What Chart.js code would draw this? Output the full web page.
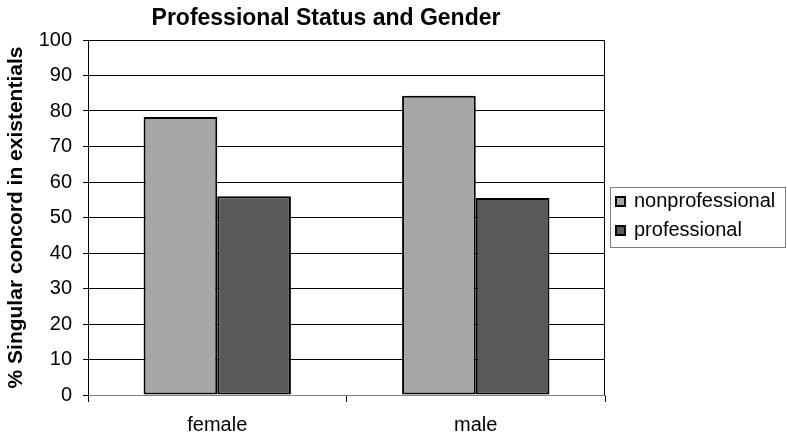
<!DOCTYPE html>
<html>
<head>
<meta charset="utf-8">
<script src="https://cdn.jsdelivr.net/npm/chart.js@4/dist/chart.umd.min.js"></script>
<style>
html,body{margin:0;padding:0;background:#fff;}
#wrap{width:787px;height:437px;position:relative;}
</style>
</head>
<body>
<div id="wrap"><canvas id="c" width="787" height="437"></canvas></div>
<script>
// data arrays
const chartTitle = "Professional Status and Gender";
const yAxisTitle = "% Singular concord in existentials";
const seriesNames = ["nonprofessional", "professional"];
const cats = ["female", "male"];
const nonprofValues = [78.3, 84.3];
const profValues = [56.0, 55.5];
const yTicks = [0, 10, 20, 30, 40, 50, 60, 70, 80, 90, 100];
const colors = ["#a6a6a6", "#595959"];

const FONT = '"Liberation Sans", Arial, Helvetica, sans-serif';

const framePlugin = {
  id: 'frame',
  afterDraw(chart) {
    const ctx = chart.ctx;
    const a = chart.chartArea;
    ctx.save();
    // right border
    ctx.strokeStyle = '#000';
    ctx.lineWidth = 1;
    ctx.beginPath();
    ctx.moveTo(Math.round(a.right) - 0.5, a.top);
    ctx.lineTo(Math.round(a.right) - 0.5, a.bottom);
    ctx.stroke();
    // title
    ctx.fillStyle = '#000';
    ctx.font = 'bold 23px ' + FONT;
    ctx.textAlign = 'center';
    ctx.textBaseline = 'alphabetic';
    ctx.fillText(chartTitle, 326, 25);
    // legend
    ctx.strokeStyle = '#808080';
    ctx.lineWidth = 1;
    ctx.strokeRect(610.5, 187.5, 175, 60);
    ctx.font = '20px ' + FONT;
    ctx.textAlign = 'left';
    chart.data.datasets.forEach((ds, i) => {
      const y = 197 + i * 29;
      ctx.fillStyle = ds.backgroundColor;
      ctx.fillRect(616, y, 9, 9);
      ctx.strokeStyle = '#000';
      ctx.lineWidth = 2;
      ctx.strokeRect(616, y, 9, 9);
      ctx.fillStyle = '#000';
      ctx.fillText(ds.label, 634, y + 10);
    });
    ctx.restore();
  }
};

new Chart(document.getElementById('c'), {
  type: 'bar',
  data: {
    labels: cats,
    datasets: [
      { label: seriesNames[0], data: nonprofValues, backgroundColor: colors[0], borderColor: '#000', borderWidth: 2, borderSkipped: false },
      { label: seriesNames[1], data: profValues, backgroundColor: colors[1], borderColor: '#000', borderWidth: 2, borderSkipped: false }
    ]
  },
  options: {
    responsive: false,
    animation: false,
    devicePixelRatio: 1,
    layout: { padding: { top: 40, right: 182, bottom: 0, left: 0 } },
    plugins: { legend: { display: false }, title: { display: false }, tooltip: { enabled: false } },
    datasets: { bar: { categoryPercentage: 0.57, barPercentage: 1.0 } },
    scales: {
      x: {
        type: 'category',
        offset: true,
        grid: { display: true, drawOnChartArea: false, drawTicks: true, tickLength: 7, color: '#000', offset: true },
        border: { display: true, color: '#808080', width: 1 },
        ticks: { color: '#000', font: { family: FONT, size: 20 }, padding: 11, maxRotation: 0 },
        afterFit(scale) { scale.height = 42; }
      },
      y: {
        min: 0, max: 100,
        afterBuildTicks(scale) { scale.ticks = yTicks.map(v => ({ value: v })); },
        grid: { color: '#000', lineWidth: 1, tickLength: 5, drawTicks: true },
        border: { display: true, color: '#000', width: 1 },
        ticks: { color: '#000', font: { family: FONT, size: 20 }, padding: 11 },
        title: { display: true, text: yAxisTitle, color: '#000', font: { family: FONT, size: 21, weight: 'bold' }, padding: { top: 4, bottom: 0 } },
        afterFit(scale) { scale.width = 88; }
      }
    }
  },
  plugins: [framePlugin]
});
</script>
</body>
</html>
